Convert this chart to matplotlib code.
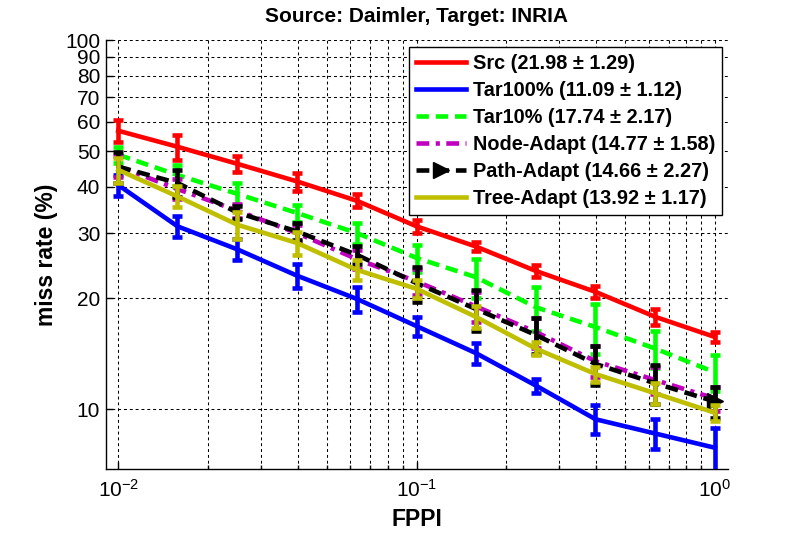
import matplotlib
matplotlib.use("Agg")
import matplotlib.pyplot as plt
from matplotlib.lines import Line2D
from matplotlib.ticker import FixedLocator, NullLocator, LogLocator, NullFormatter
import numpy as np

plt.rcParams['font.family'] = ['Liberation Sans', 'DejaVu Sans']
plt.rcParams['mathtext.fontset'] = 'custom'
plt.rcParams['mathtext.rm'] = 'Liberation Sans'
plt.rcParams['mathtext.it'] = 'Liberation Sans:italic'
plt.rcParams['mathtext.bf'] = 'Liberation Sans:bold'

fppi = [0.01, 0.0158, 0.0251, 0.0398, 0.0631, 0.1, 0.158, 0.251, 0.398, 0.631, 1.0]

src = [56.8, 51.4, 46.2, 41.4, 36.7, 31.3, 27.6, 23.7, 20.8, 17.8, 15.7]
src_err = [4.0, 4.0, 2.4, 2.3, 1.5, 1.2, 0.7, 0.9, 0.75, 0.85, 0.5]

tar100 = [40.5, 31.3, 27.1, 23.0, 19.9, 16.8, 14.2, 11.6, 9.4, 8.6, 7.87]
tar100_err = [2.7, 2.0, 1.8, 1.7, 1.6, 1.0, 0.9, 0.5, 0.85, 0.8, 1.05]

tar10 = [48.9, 43.1, 38.3, 34.0, 30.0, 25.7, 22.8, 18.9, 16.7, 14.6, 12.6]
tar10_err = [2.5, 2.8, 2.6, 1.8, 2.0, 2.2, 2.8, 2.6, 2.6, 1.7, 1.4]

node = [45.5, 39.5, 34.5, 30.0, 25.5, 22.2, 19.0, 16.2, 13.5, 12.0, 10.7]
node_err = [3.0, 2.5, 1.5, 1.5, 1.5, 1.8, 1.8, 1.5, 1.3, 1.0, 0.8]

path = [45.4, 41.0, 34.1, 30.3, 26.2, 21.96, 18.7, 15.9, 13.27, 11.76, 10.5]
path_err = [4.3, 3.5, 1.4, 1.6, 1.5, 2.4, 2.4, 1.8, 1.6, 1.4, 1.0]

tree = [44.5, 37.7, 31.6, 28.2, 23.85, 21.2, 17.8, 14.6, 12.46, 11.05, 9.79]
tree_err = [3.5, 2.5, 2.6, 2.0, 1.5, 1.2, 1.2, 0.6, 0.6, 0.7, 0.5]

labels = ['Src (21.98 \u00b1 1.29)', 'Tar100% (11.09 \u00b1 1.12)', 'Tar10% (17.74 \u00b1 2.17)',
          'Node-Adapt (14.77 \u00b1 1.58)', 'Path-Adapt (14.66 \u00b1 2.27)', 'Tree-Adapt (13.92 \u00b1 1.17)']

yticks = [10, 20, 30, 40, 50, 60, 70, 80, 90, 100]

series = [
    (src, src_err, '#FF0000', '-', None),
    (tar100, tar100_err, '#0000FF', '-', None),
    (tar10, tar10_err, '#00FF00', (0, (2.7, 1.5)), None),
    (node, node_err, '#BF00BF', (0, (2.8, 1.4, 0.9, 1.4)), None),
    (path, path_err, '#000000', (0, (2.8, 1.5)), '>'),
    (tree, tree_err, '#BFBF00', '-', None),
]

fig = plt.figure(figsize=(8.05, 5.35), dpi=100)
ax = fig.add_axes([0.1313, 0.1228, 0.7734, 0.8024])
ax.set_xscale('log')
ax.set_yscale('log')

lw = 3.3
handles = []
for (vals, errs, col, ls, mk), lab in zip(series, labels):
    ax.errorbar(fppi, vals, yerr=errs, color=col, ls='none', elinewidth=lw,
                capsize=3.3, capthick=lw, zorder=2)
    ax.plot(fppi, vals, color=col, ls=ls, lw=lw, zorder=2,
            marker=mk if mk else None, markevery=[len(fppi) - 1] if mk else None,
            markersize=11, markeredgecolor=col, markerfacecolor=col)
    handles.append(Line2D([], [], color=col, ls=ls, lw=lw, marker=mk if mk else None,
                          markersize=11, markeredgecolor=col, markerfacecolor=col))

ax.set_xlim(10 ** -2.042, 10 ** 0.045)
ax.set_ylim(6.88, 100)

ax.yaxis.set_major_locator(FixedLocator(yticks))
ax.yaxis.set_minor_locator(NullLocator())
ax.set_yticklabels([str(v) for v in yticks])
ax.xaxis.set_major_locator(FixedLocator([0.01, 0.1, 1.0]))
ax.xaxis.set_minor_locator(LogLocator(base=10, subs=np.arange(2, 10)))
ax.xaxis.set_minor_formatter(NullFormatter())

ax.grid(True, which='major', color='black', ls=(0, (2.8, 2.8)), lw=0.75)
ax.grid(True, which='minor', axis='x', color='black', ls=(0, (2.8, 2.8)), lw=0.75)
ax.set_axisbelow(True)

for s in ['top', 'right']:
    ax.spines[s].set_visible(False)
for s in ['left', 'bottom']:
    ax.spines[s].set_linewidth(1.0)
ax.tick_params(which='both', direction='in', top=False, right=False, width=1)
ax.tick_params(axis='y', labelsize=15, pad=4)
ax.tick_params(axis='x', labelsize=15, pad=7)
ax.tick_params(which='major', length=5)
ax.tick_params(which='minor', length=3)

ax.set_title('Source: Daimler, Target: INRIA', fontsize=15, fontweight='bold', pad=13)
ax.set_xlabel('FPPI', fontsize=16.5, fontweight='bold', labelpad=5)
ax.set_ylabel('miss rate (%)', fontsize=16.5, fontweight='bold', labelpad=5)

leg = ax.legend(handles, labels, loc='upper right', bbox_to_anchor=(0.99, 0.984),
                borderaxespad=0, fancybox=False, framealpha=1, edgecolor='black',
                prop={'weight': 'bold', 'size': 14.3}, handlelength=2.5,
                handletextpad=0.35, labelspacing=0.4, borderpad=0.35)
leg.get_frame().set_linewidth(1.0)
leg.set_zorder(5)

fig.savefig('out.png', dpi=100)
